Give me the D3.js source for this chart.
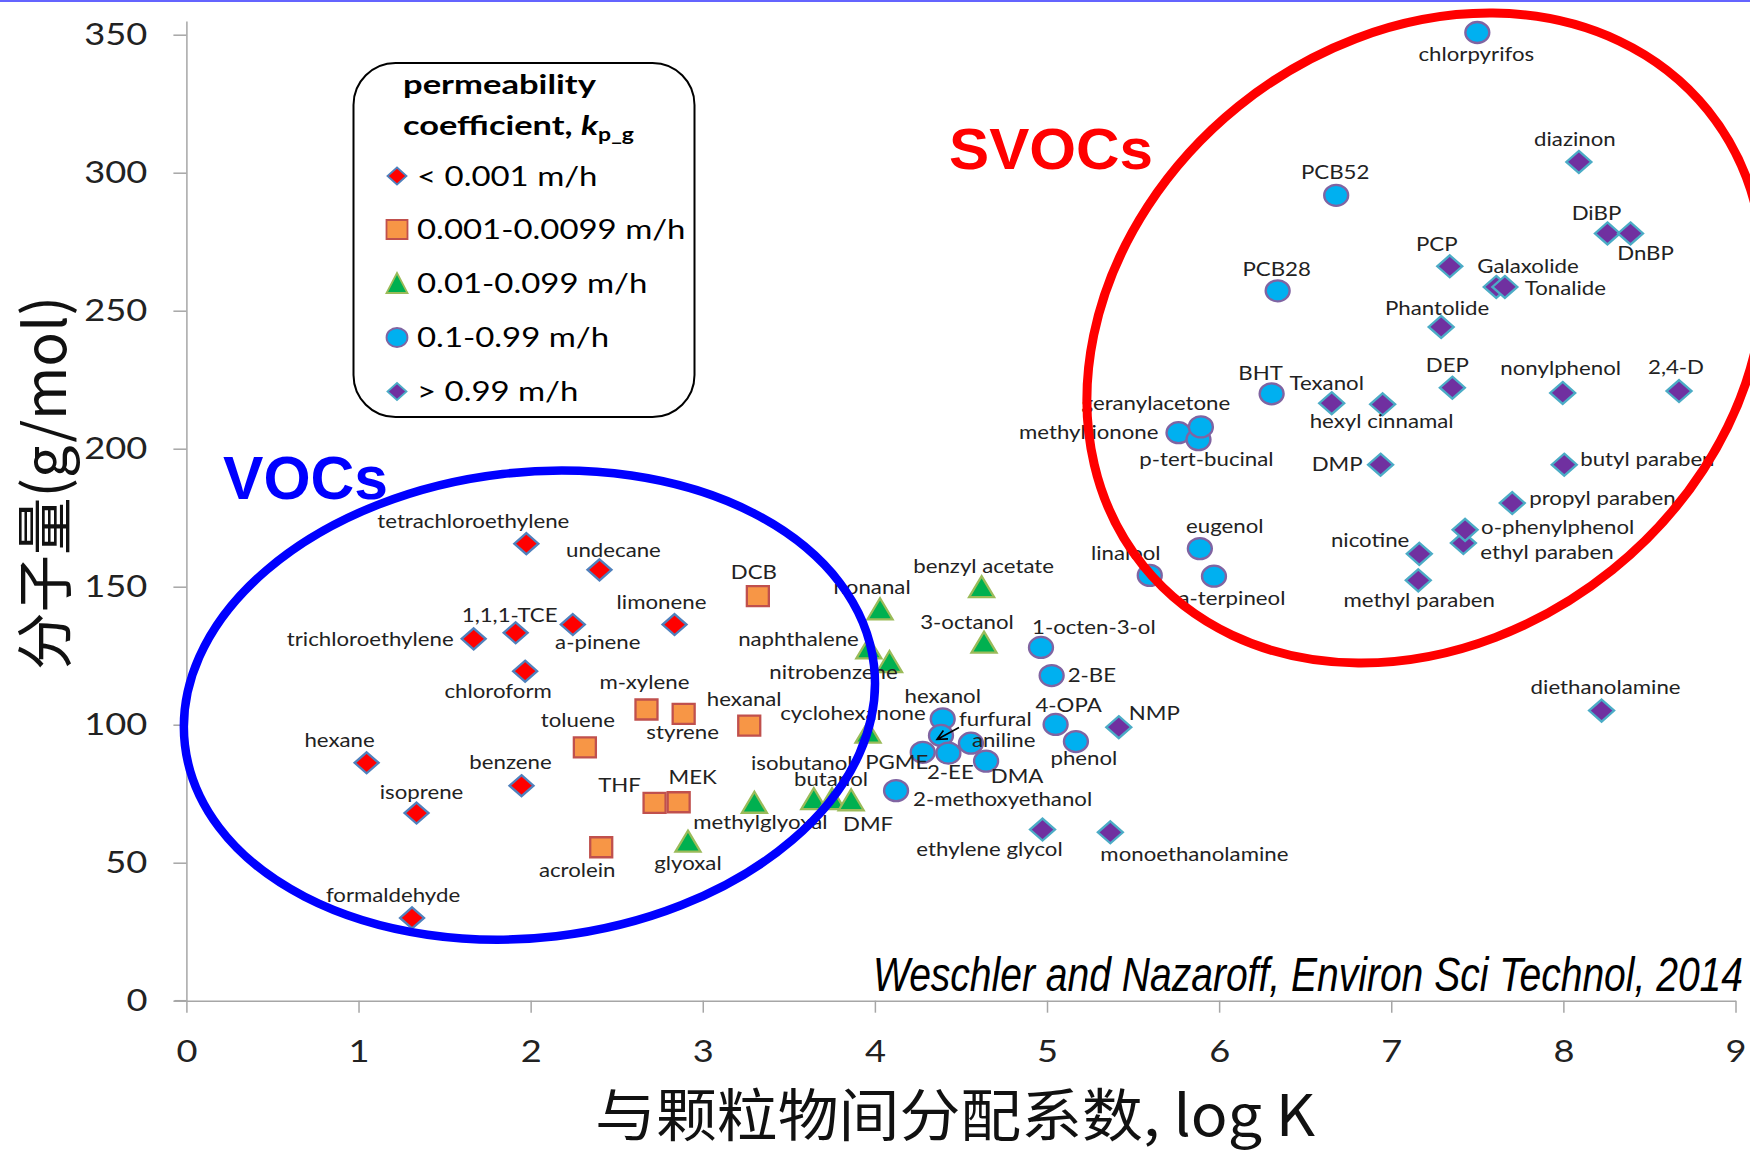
<!DOCTYPE html>
<html>
<head>
<meta charset="utf-8">
<script src="https://cdn.jsdelivr.net/npm/d3@7"></script>
<style>
  html, body { margin: 0; padding: 0; background: #fff; }
  svg { display: block; }
</style>
</head>
<body>
<svg id="chart" width="1750" height="1151"></svg>
<script>
// ---- data: [compound, log K (particle partition), molecular weight g/mol] ----
const kpBelow0001 = [
  ["tetrachloroethylene", 1.975, 165.6],
  ["undecane", 2.40, 156.1],
  ["1,1,1-TCE", 1.913, 133.3],
  ["a-pinene", 2.245, 136.3],
  ["limonene", 2.836, 136.3],
  ["trichloroethylene", 1.669, 131.1],
  ["chloroform", 1.968, 119.4],
  ["hexane", 1.047, 86.2],
  ["benzene", 1.947, 77.9],
  ["isoprene", 1.337, 68.0],
  ["formaldehyde", 1.311, 30.0]
];
const kp0001to00099 = [
  ["DCB", 3.32, 146.6],
  ["m-xylene", 2.673, 105.5],
  ["styrene", 2.889, 103.9],
  ["hexanal", 3.27, 99.7],
  ["toluene", 2.315, 91.8],
  ["THF", 2.72, 71.7],
  ["MEK", 2.86, 71.9],
  ["acrolein", 2.41, 55.6]
];
const kp001to0099 = [
  ["benzyl acetate", 4.62, 150.0],
  ["nonanal", 4.03, 142.0],
  ["3-octanol", 4.634, 129.9],
  ["naphthalene", 3.965, 127.8],
  ["nitrobenzene", 4.085, 122.9],
  ["cyclohexanone", 3.96, 97.3],
  ["isobutanol", 3.645, 73.2],
  ["butanol", 3.751, 73.2],
  ["DMF", 3.862, 72.8],
  ["methylglyoxal", 3.30, 71.9],
  ["glyoxal", 2.914, 57.8]
];
const kp01to099 = [
  ["chlorpyrifos", 7.50, 350.8],
  ["PCB52", 6.68, 291.8],
  ["PCB28", 6.34, 257.2],
  ["BHT", 6.305, 219.9],
  ["methyl ionone", 5.764, 205.8],
  ["p-tert-bucinal", 5.88, 203.3],
  ["geranylacetone", 5.894, 207.9],
  ["eugenol", 5.888, 163.8],
  ["linalool", 5.597, 154.1],
  ["a-terpineol", 5.97, 153.8],
  ["1-octen-3-ol", 4.965, 128.0],
  ["2-BE", 5.027, 117.8],
  ["4-OPA", 5.05, 100.1],
  ["phenol", 5.168, 93.9],
  ["hexanol", 4.394, 102.1],
  ["furfural", 4.384, 96.1],
  ["aniline", 4.558, 93.3],
  ["PGME", 4.278, 90.0],
  ["2-EE", 4.427, 89.7],
  ["DMA", 4.646, 86.8],
  ["2-methoxyethanol", 4.123, 76.1]
];
const kpAbove099 = [
  ["diazinon", 8.09, 303.9],
  ["DiBP", 8.256, 278.0],
  ["DnBP", 8.39, 278.0],
  ["PCP", 7.34, 266.1],
  ["Galaxolide", 7.61, 258.6],
  ["Tonalide", 7.66, 258.6],
  ["Phantolide", 7.29, 244.1],
  ["DEP", 7.355, 222.1],
  ["nonylphenol", 7.996, 220.2],
  ["2,4-D", 8.672, 220.9],
  ["Texanol", 6.654, 216.5],
  ["hexyl cinnamal", 6.95, 216.1],
  ["DMP", 6.938, 194.2],
  ["butyl paraben", 8.005, 194.2],
  ["propyl paraben", 7.703, 180.3],
  ["ethyl paraben", 7.419, 165.8],
  ["o-phenylphenol", 7.429, 170.6],
  ["nicotine", 7.163, 161.9],
  ["methyl paraben", 7.157, 152.3],
  ["NMP", 5.417, 99.1],
  ["ethylene glycol", 4.974, 62.0],
  ["monoethanolamine", 5.368, 61.0],
  ["diethanolamine", 8.222, 105.1]
];

const seriesNames = ["< 0.001 m/h", "0.001-0.0099 m/h", "0.01-0.099 m/h", "0.1-0.99 m/h", "> 0.99 m/h"];
const xTicks = [0, 1, 2, 3, 4, 5, 6, 7, 8, 9];
const yTicks = [0, 50, 100, 150, 200, 250, 300, 350];

// group outlines: centre (log K, MW), half axes (log K units, MW units), tilt in degrees
const groupOutlines = [
  { name: "VOCs",  cx: 1.993, cy: 107.1, ax: 2.015, ay: 84.3,  tilt: -6.6,  color: "#0000ff" },
  { name: "SVOCs", cx: 7.199, cy: 240.1, ax: 2.107, ay: 107.9, tilt: -38.9, color: "#ff0000" }
];

// ---- label placement: [anchor, dx, dy-to-baseline] in px from the marker ----
const labelPlacement = {
  "tetrachloroethylene": ["m", -53, -16], "undecane": ["m", 14, -13], "1,1,1-TCE": ["m", -6, -11],
  "a-pinene": ["m", 25, 24], "limonene": ["m", -13, -16], "trichloroethylene": ["e", -20, 7],
  "chloroform": ["m", -27, 27], "hexane": ["m", -27, -16], "benzene": ["m", -11, -17],
  "isoprene": ["m", 5, -14], "formaldehyde": ["m", -19, -16],
  "DCB": ["m", -4, -17], "m-xylene": ["m", -2, -21], "styrene": ["m", -1, 25], "hexanal": ["m", -5, -20],
  "toluene": ["m", -7, -20], "THF": ["m", -35, -11], "MEK": ["m", 14, -18], "acrolein": ["m", -24, 30],
  "benzyl acetate": ["m", 2, -14], "nonanal": ["m", -8, -15], "3-octanol": ["m", -17, -13],
  "naphthalene": ["e", -10, -2], "nitrobenzene": ["m", -56, 18], "cyclohexanone": ["m", -15, -12],
  "isobutanol": ["m", -12, -29], "butanol": ["m", -1, -13], "DMF": ["m", 17, 31],
  "methylglyoxal": ["m", 6, 27], "glyoxal": ["m", 0, 29],
  "chlorpyrifos": ["m", -1, 29], "PCB52": ["m", -1, -16], "PCB28": ["m", -1, -15], "BHT": ["m", -11, -14],
  "methyl ionone": ["e", -20, 6], "geranylacetone": ["m", -45, -17], "p-tert-bucinal": ["m", 8, 26],
  "eugenol": ["m", 25, -16], "linalool": ["m", -24, -15], "a-terpineol": ["m", 18, 29],
  "1-octen-3-ol": ["s", -9, -13], "2-BE": ["s", 16, 6], "4-OPA": ["m", 13, -12], "phenol": ["m", 8, 23],
  "hexanol": ["m", 0, -16], "furfural": ["s", 18, -9], "aniline": ["s", 1, 4], "PGME": ["m", -26, 17],
  "2-EE": ["m", 2, 26], "DMA": ["m", 31, 22], "2-methoxyethanol": ["s", 17, 15],
  "diazinon": ["m", -4, -16], "DiBP": ["m", -11, -13], "DnBP": ["m", 15, 27], "PCP": ["m", -13, -15],
  "Galaxolide": ["s", -19, -14], "Tonalide": ["s", 20, 8], "Phantolide": ["m", -4, -12],
  "DEP": ["m", -5, -16], "nonylphenol": ["m", -2, -18], "2,4-D": ["m", -3, -17],
  "Texanol": ["m", -5, -13], "hexyl cinnamal": ["m", -1, 24], "DMP": ["e", -18, 6],
  "butyl paraben": ["s", 16, 1], "propyl paraben": ["s", 17, 2], "o-phenylphenol": ["s", 16, 4],
  "ethyl paraben": ["s", 17, 16], "nicotine": ["e", -10, -7], "methyl paraben": ["m", 1, 27],
  "NMP": ["s", 10, -7], "ethylene glycol": ["m", -53, 26], "monoethanolamine": ["s", -10, 29],
  "diethanolamine": ["m", 4, -17]
};
const anchorMap = { m: "middle", s: "start", e: "end" };

// ---- drawing ----
const svg = d3.select("#chart");
const W = 1750, H = 1151;
const latin = "Lato, 'Open Sans', 'Noto Sans', sans-serif";
const cjk = "'Noto Sans CJK SC', 'Noto Sans', sans-serif";

svg.append("rect").attr("width", W).attr("height", H).attr("fill", "#fff");
svg.append("rect").attr("x", 0).attr("y", 0).attr("width", W).attr("height", 2).attr("fill", "#6464ff");

const x = d3.scaleLinear().domain([0, 9]).range([186.4, 1735.5]);
const y = d3.scaleLinear().domain([0, 355]).range([1000.7, 20.9]);

function stretch(sel, k) {
  sel.each(function () {
    const w = this.getComputedTextLength();
    if (w > 0) {
      this.setAttribute("textLength", (w * k).toFixed(1));
      this.setAttribute("lengthAdjust", "spacingAndGlyphs");
    }
  });
}

// axes
const axisColor = "#a6a6a6";
const gy = svg.append("g").attr("transform", `translate(${x(0)},0)`)
  .call(d3.axisLeft(y).tickValues(yTicks).tickSize(13).tickSizeOuter(0).tickPadding(26));
const gx = svg.append("g").attr("transform", `translate(0,${y(0)})`)
  .call(d3.axisBottom(x).tickValues(xTicks).tickSize(12).tickSizeOuter(0).tickPadding(27));
[gx, gy].forEach(g => {
  g.select(".domain").attr("stroke", axisColor).attr("stroke-width", 1.5);
  g.selectAll(".tick line").attr("stroke", axisColor).attr("stroke-width", 1.5);
  g.selectAll(".tick text").attr("font-family", latin).attr("font-size", 31).attr("fill", "#222");
  stretch(g.selectAll(".tick text"), 1.17);
});
// x axis line reaches left past the y axis like the zero tick
svg.append("line").attr("x1", x(0) - 12).attr("x2", x(0)).attr("y1", y(0)).attr("y2", y(0))
  .attr("stroke", axisColor).attr("stroke-width", 1.5);

// marker shapes (half width, half height)
function shapePath(kind, hw, hh) {
  switch (kind) {
    case "diamond":  return `M0,${-hh}L${hw},0L0,${hh}L${-hw},0Z`;
    case "square":   return `M${-hw},${-hh}H${hw}V${hh}H${-hw}Z`;
    case "triangle": return `M0,${-hh}L${hw},${hh}L${-hw},${hh}Z`;
    case "circle":   return `M${-hw},0A${hw},${hh} 0 1,0 ${hw},0A${hw},${hh} 0 1,0 ${-hw},0Z`;
  }
}

const series = [
  { data: kpBelow0001,   name: seriesNames[0], shape: "diamond",  fill: "#ff0000", stroke: "#4f81bd", hw: 12,   hh: 10.5 },
  { data: kp0001to00099, name: seriesNames[1], shape: "square",   fill: "#f79646", stroke: "#c0504d", hw: 11,   hh: 10 },
  { data: kp001to0099,   name: seriesNames[2], shape: "triangle", fill: "#00b050", stroke: "#9bbb59", hw: 12.5, hh: 10.5 },
  { data: kp01to099,     name: seriesNames[3], shape: "circle",   fill: "#00b0f0", stroke: "#8064a2", hw: 12,   hh: 10.5 },
  { data: kpAbove099,    name: seriesNames[4], shape: "diamond",  fill: "#7030a0", stroke: "#4bacc6", hw: 12.5, hh: 11 }
];

const gMarks = svg.append("g");
series.forEach(s => {
  gMarks.append("g").selectAll("path").data(s.data).join("path")
    .attr("transform", d => `translate(${x(d[1])},${y(d[2])})`)
    .attr("d", shapePath(s.shape, s.hw, s.hh))
    .attr("fill", s.fill).attr("stroke", s.stroke).attr("stroke-width", 2.3);
});

// compound labels
const allPoints = series.flatMap(s => s.data);
const gLabels = svg.append("g");
const labels = gLabels.selectAll("text").data(allPoints).join("text")
  .attr("x", d => x(d[1]) + labelPlacement[d[0]][1])
  .attr("y", d => y(d[2]) + labelPlacement[d[0]][2])
  .attr("text-anchor", d => anchorMap[labelPlacement[d[0]][0]])
  .attr("font-family", latin).attr("font-size", 19).attr("fill", "#222")
  .text(d => d[0]);
stretch(labels, 1.17);

// pointer to furfural inside the crowded cluster
const furfural = kp01to099.find(d => d[0] === "furfural");
const fx = x(furfural[1]), fy = y(furfural[2]);
const tip = [fx - 4, fy + 4], tail = [fx + 18, fy - 8];
const ang = Math.atan2(tail[1] - tip[1], tail[0] - tip[0]);
const arm = 11, spread = 0.45;
svg.append("path")
  .attr("d", `M${tail[0]},${tail[1]}L${tip[0]},${tip[1]}` +
    `M${tip[0] + arm * Math.cos(ang + spread)},${tip[1] + arm * Math.sin(ang + spread)}L${tip[0]},${tip[1]}` +
    `L${tip[0] + arm * Math.cos(ang - spread)},${tip[1] + arm * Math.sin(ang - spread)}`)
  .attr("fill", "none").attr("stroke", "#000").attr("stroke-width", 1.6);

// group outlines
groupOutlines.forEach(o => {
  const cx = x(o.cx), cy = y(o.cy);
  const rx = x(o.cx + o.ax) - cx, ry = cy - y(o.cy + o.ay);
  svg.append("ellipse")
    .attr("cx", 0).attr("cy", 0).attr("rx", rx).attr("ry", ry)
    .attr("transform", `translate(${cx},${cy}) rotate(${o.tilt})`)
    .attr("fill", "none").attr("stroke", o.color).attr("stroke-width", o.name === "VOCs" ? 8.5 : 9);
});

// group titles
svg.append("text").attr("x", 223).attr("y", 498.5)
  .attr("font-family", "'Liberation Sans', Arial, sans-serif").attr("font-weight", 700)
  .attr("font-size", 61).attr("fill", "#0000ff")
  .attr("textLength", 165).attr("lengthAdjust", "spacingAndGlyphs").text("VOCs");
svg.append("text").attr("x", 949).attr("y", 168.5)
  .attr("font-family", "'Liberation Sans', Arial, sans-serif").attr("font-weight", 700)
  .attr("font-size", 58).attr("fill", "#ff0000")
  .attr("textLength", 204).attr("lengthAdjust", "spacingAndGlyphs").text("SVOCs");

// legend
const legend = svg.append("g");
legend.append("rect").attr("x", 353.5).attr("y", 63).attr("width", 341).attr("height", 354)
  .attr("rx", 42).attr("ry", 42).attr("fill", "#fff").attr("stroke", "#000").attr("stroke-width", 2);

function fitWidth(node, tx, ty, target) {
  const w = node.getComputedTextLength();
  node.setAttribute("transform", `translate(${tx},${ty}) scale(${target / w},1)`);
}
const t1 = legend.append("text").attr("font-family", latin).attr("font-weight", 700)
  .attr("font-size", 27).attr("fill", "#000").text("permeability");
fitWidth(t1.node(), 403, 94, 193);
const t2 = legend.append("text").attr("font-family", latin).attr("font-weight", 700)
  .attr("font-size", 27).attr("fill", "#000");
t2.append("tspan").text("coefficient, ");
t2.append("tspan").attr("font-style", "italic").text("k");
t2.append("tspan").attr("font-size", 18).attr("dy", 6).text("p_g");
fitWidth(t2.node(), 403, 135, 231);

const legendRows = [176, 229.5, 283, 337.5, 391.5];
const legendSize = [[9.5, 8.5], [10.5, 9.5], [10.5, 10], [10.5, 9.5], [9.5, 8.5]];
series.forEach((s, i) => {
  legend.append("path")
    .attr("transform", `translate(397,${legendRows[i]})`)
    .attr("d", shapePath(s.shape, legendSize[i][0], legendSize[i][1]))
    .attr("fill", s.fill).attr("stroke", s.stroke).attr("stroke-width", 1.8);
  const t = legend.append("text").attr("x", 417).attr("y", legendRows[i] + 9.5)
    .attr("font-family", latin).attr("font-size", 27).attr("fill", "#000").text(s.name);
  stretch(t, 1.22);
});

// axis titles
svg.append("text").attr("x", 595).attr("y", 1136)
  .attr("font-family", cjk).attr("font-size", 57).attr("fill", "#111")
  .attr("textLength", 720).attr("lengthAdjust", "spacingAndGlyphs")
  .text("与颗粒物间分配系数, log K");
svg.append("text").attr("transform", "translate(66,670) rotate(-90)")
  .attr("font-family", cjk).attr("font-size", 58).attr("fill", "#111")
  .attr("textLength", 374).attr("lengthAdjust", "spacingAndGlyphs")
  .text("分子量(g/mol)");

// source note
svg.append("text").attr("x", 873).attr("y", 990.5)
  .attr("font-family", "'Liberation Sans Narrow', 'Liberation Sans', Arial, sans-serif")
  .attr("font-style", "italic").attr("font-size", 48).attr("fill", "#000")
  .attr("textLength", 870).attr("lengthAdjust", "spacingAndGlyphs")
  .text("Weschler and Nazaroff, Environ Sci Technol, 2014");
</script>
</body>
</html>
